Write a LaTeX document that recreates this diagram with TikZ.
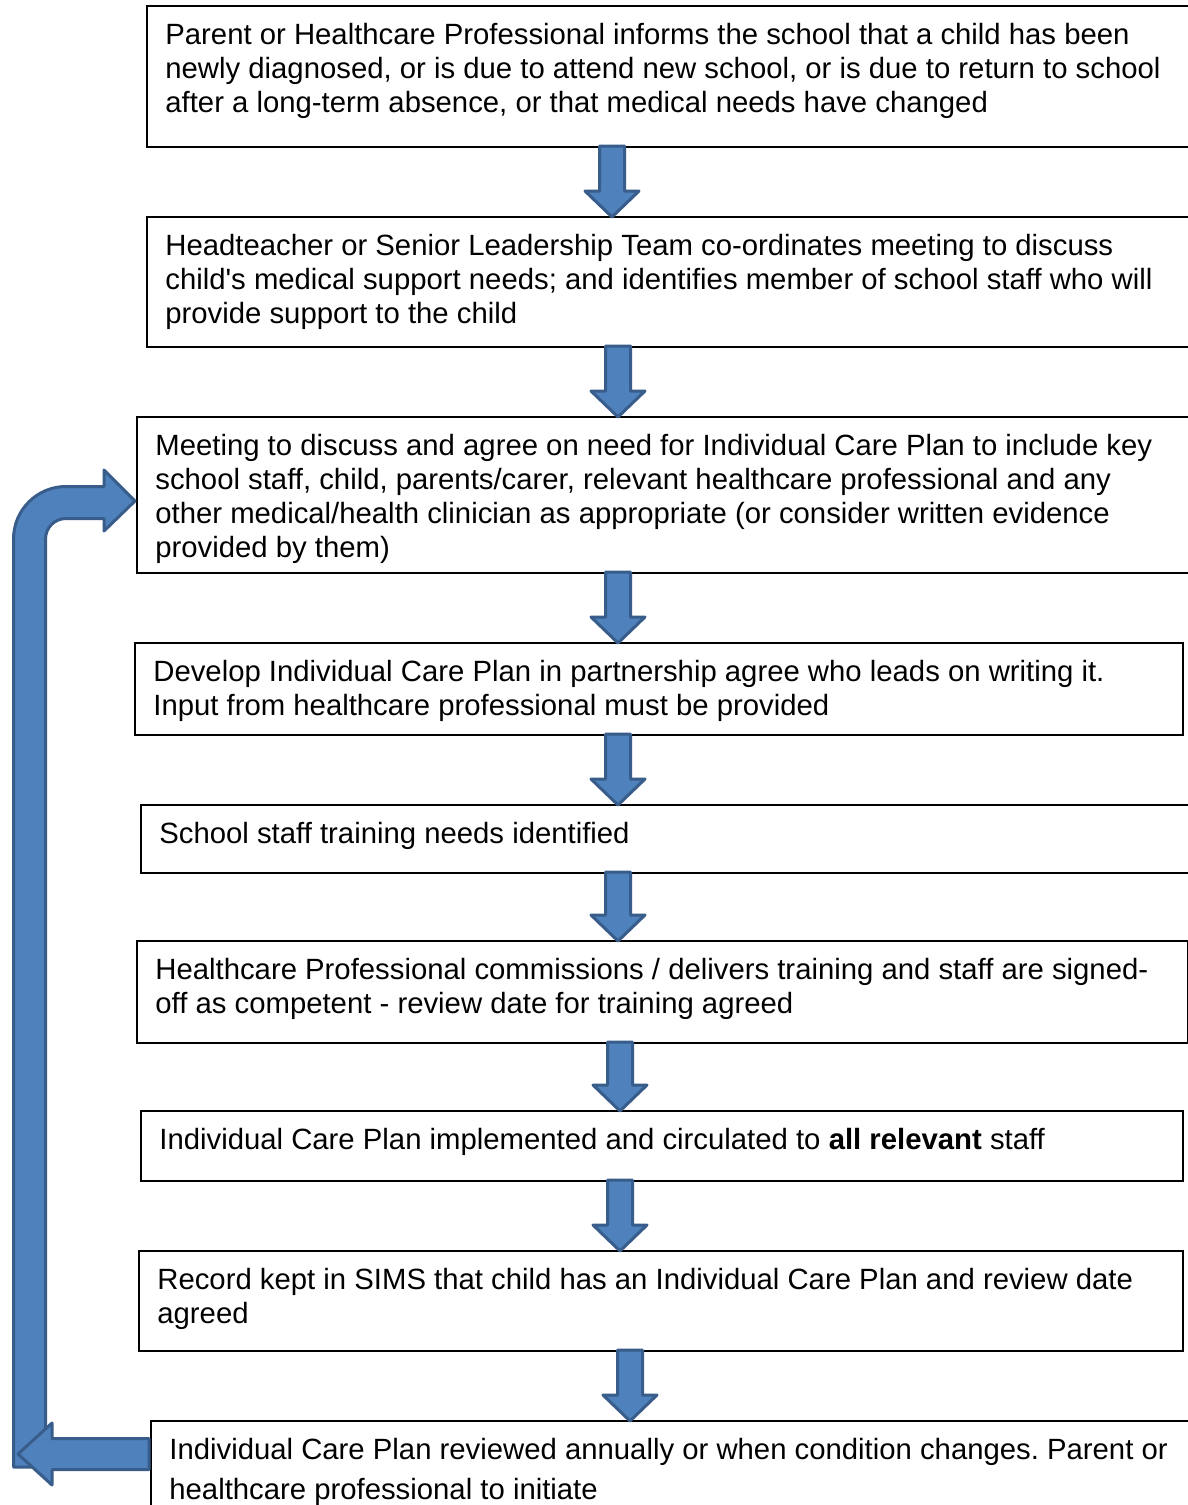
\documentclass[tikz,border=0pt]{standalone}
\usepackage{fontspec}
\setmainfont{Liberation Sans}
\usetikzlibrary{calc}

\newcommand{\stepbody}[3]{\parbox[c][#1][t]{#2}{\raggedright\frenchspacing\vspace*{8.5pt}#3}}

\begin{document}
\begin{tikzpicture}[x=0.5pt, y=-0.5pt, font=\fontsize{14.65}{17}\selectfont,
  stepbox/.style={draw, line width=1pt, anchor=north west, inner xsep=9.2pt, inner ysep=0pt},
  blockarrow/.style={fill=arrowfill, draw=arrowline, line width=1.5pt, line join=round}]
  \definecolor{arrowfill}{HTML}{4F81BD}
  \definecolor{arrowline}{HTML}{385D8A}
  \useasboundingbox (0,0) rectangle (1188,1505);
  \clip (0,0) rectangle (1188,1505);
  \fill[white] (0,0) rectangle (1188,1505);

  % the steps, top to bottom
  \node[stepbox] (b1) at (146,5) {\stepbody{70.5pt}{519pt}{Parent or Healthcare Professional informs the school that a child has been\\ newly diagnosed, or is due to attend new school, or is due to return to school\\ after a long-term absence, or that medical needs have changed}};
  \node[stepbox] (b2) at (146,216) {\stepbody{65pt}{519pt}{Headteacher or Senior Leadership Team co-ordinates meeting to discuss\\ child\textquotesingle s medical support needs; and identifies member of school staff who will\\ provide support to the child}};
  \node[stepbox] (b3) at (136,416) {\stepbody{78pt}{524pt}{Meeting to discuss and agree on need for Individual Care Plan to include key\\ school staff, child, parents/carer, relevant healthcare professional and any\\ other medical/health clinician as appropriate (or consider written evidence\\ provided by them)}};
  \node[stepbox] (b4) at (134,642) {\stepbody{46pt}{505.6pt}{Develop Individual Care Plan in partnership agree who leads on writing it.\\ Input from healthcare professional must be provided}};
  \node[stepbox] (b5) at (140,804) {\stepbody{34pt}{522pt}{School staff training needs identified}};
  \node[stepbox] (b6) at (136,940) {\stepbody{51pt}{507.1pt}{Healthcare Professional commissions / delivers training and staff are signed-\\ off as competent - review date for training agreed}};
  \node[stepbox] (b7) at (140,1110) {\stepbody{35pt}{502.6pt}{Individual Care Plan implemented and circulated to \textbf{all relevant} staff}};
  \node[stepbox] (b8) at (138,1250) {\stepbody{50pt}{503.6pt}{Record kept in SIMS that child has an Individual Care Plan and review date\\ agreed}};
  \node[stepbox] (b9) at (150,1420) {\stepbody{60pt}{517pt}{\baselineskip=20pt Individual Care Plan reviewed annually or when condition changes. Parent or\\ healthcare professional to initiate}};

  % down arrows
  \foreach \a/\b/\ax in {b1/b2/612, b2/b3/618, b3/b4/618, b4/b5/618, b5/b6/618, b6/b7/620, b7/b8/620, b8/b9/630}
    \draw[blockarrow] let \p1=(\a.south), \p2=(\b.north) in
      (\ax*0.5pt-6.25pt,\y1+1pt) -- (\ax*0.5pt+6.25pt,\y1+1pt) -- (\ax*0.5pt+6.25pt,\y2+12.5pt)
      -- (\ax*0.5pt+13.5pt,\y2+12.5pt) -- (\ax*0.5pt,\y2-0.5pt) -- (\ax*0.5pt-13.5pt,\y2+12.5pt)
      -- (\ax*0.5pt-6.25pt,\y2+12.5pt) -- cycle;

  % loop back up to the meeting
  \coordinate (looptip) at ($(b3.west)+(-1,6)$);
  \draw[blockarrow] (13.5,1467) -- (13.5,539) .. controls (13.5,510) and (37,486.5) .. (66,486.5)
    -- (104,486.5) -- (104,470) -- (looptip) -- (104,531) -- (104,518.5) -- (66,518.5)
    .. controls (54.7,518.5) and (45.5,527.7) .. (45.5,539) -- (45.5,1467) -- cycle;
  \draw[blockarrow] let \p1=(b9.north west) in
    (\x1-0.5pt,\y1-9.25pt) -- (26pt,\y1-9.25pt) -- (26pt,\y1-1.5pt) -- (9pt,\y1-17pt)
    -- (26pt,\y1-32.5pt) -- (26pt,\y1-24.75pt) -- (\x1-0.5pt,\y1-24.75pt) -- cycle;
\end{tikzpicture}
\end{document}
